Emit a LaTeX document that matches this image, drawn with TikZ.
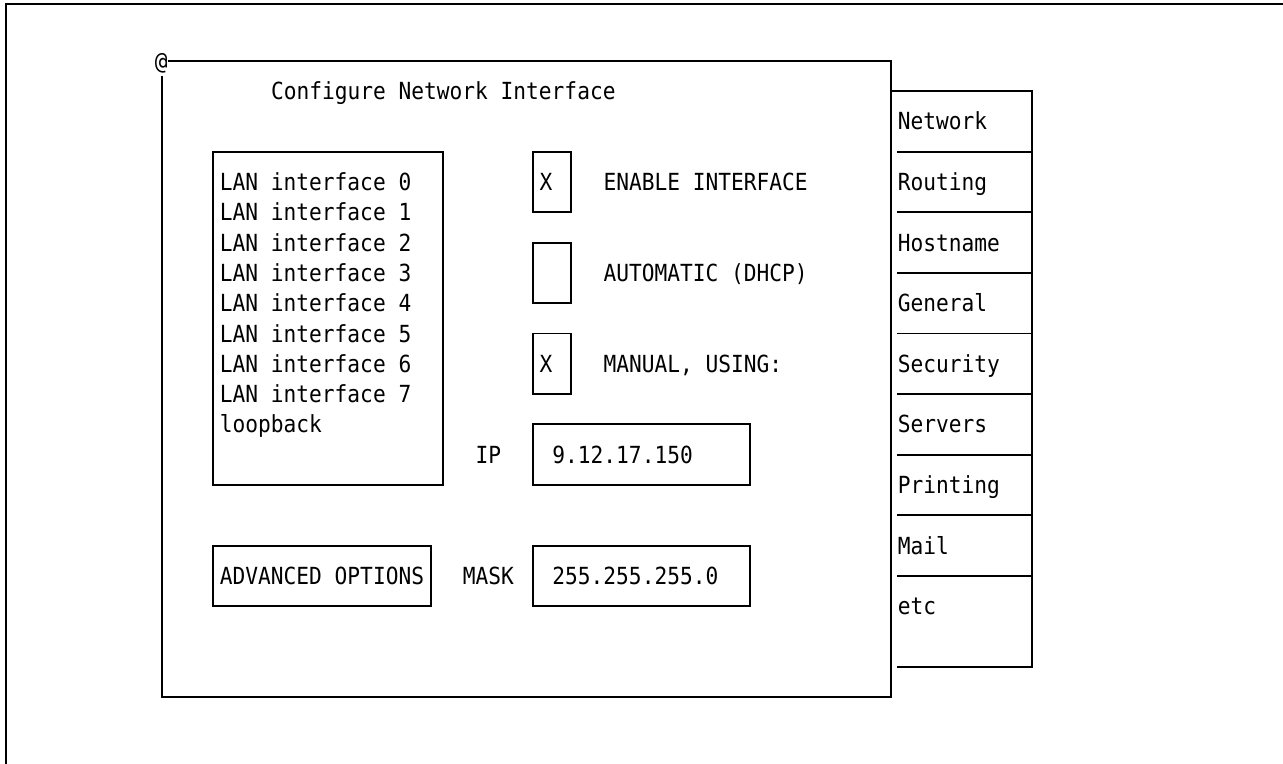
\documentclass[tikz,border=0pt]{standalone}
\usepackage{fontspec}
\newfontfamily\uifont[FakeStretch=0.9]{DejaVu Sans Mono}
\usetikzlibrary{positioning}

\begin{document}
\begin{tikzpicture}[
    x=0.2558cm, y=-0.606cm,
    frame/.style={draw, line width=1.1pt},
    ui/.style={inner sep=0pt, font=\uifont\fontsize{13.4}{16}\selectfont},
    txt/.style={ui, anchor=base west, yshift=-0.17cm}
]
\useasboundingbox (-12.666,-6.0066) rectangle (87.647,19.175);

% Outer frame
\draw[frame] (87.7,-5.874) -- (-12.197,-5.874) -- (-12.197,19.2);

% Main window
\node[ui] (at) at (-0.05,-3.93) {@};
\draw[frame] (0.45,-4) -- (57,-4) -- (57,17) -- (0,17) -- (0,-3.5);
\node[txt] (title) at (8.5,-3) {Configure Network Interface};

% Interface list
\draw[frame] (4,-1) rectangle (22,10);
\node[txt] (lan0) at (4.5,0) {LAN interface 0};
\node[txt] (lan1) at (4.5,1) {LAN interface 1};
\node[txt] (lan2) at (4.5,2) {LAN interface 2};
\node[txt] (lan3) at (4.5,3) {LAN interface 3};
\node[txt] (lan4) at (4.5,4) {LAN interface 4};
\node[txt] (lan5) at (4.5,5) {LAN interface 5};
\node[txt] (lan6) at (4.5,6) {LAN interface 6};
\node[txt] (lan7) at (4.5,7) {LAN interface 7};
\node[txt] (loop) at (4.5,8) {loopback};

% Check boxes
\draw[frame] (29,-1) rectangle (32,1);
\draw[frame] (29,2) rectangle (32,4);
\draw[frame] (29,5) rectangle (32,7);
\node[txt] (enable-x) at (29.5,0) {X};
\node[txt] (manual-x) at (29.5,6) {X};
\node[txt] (enable) at (34.5,0) {ENABLE INTERFACE};
\node[txt] (dhcp) at (34.5,3) {AUTOMATIC (DHCP)};
\node[txt] (manual) at (34.5,6) {MANUAL, USING:};

% Address fields
\node[txt] (ip) at (24.5,9) {IP};
\draw[frame] (29,8) rectangle (46,10);
\node[txt] (ip-val) at (30.5,9) {9.12.17.150};

\draw[frame] (4,12) rectangle (21,14);
\node[txt] (advanced) at (4.5,13) {ADVANCED OPTIONS};

\node[txt] (mask) at (23.5,13) {MASK};
\draw[frame] (29,12) rectangle (46,14);
\node[txt] (mask-val) at (30.5,13) {255.255.255.0};

% Tabs
\draw[frame] (57,-3) -- (68,-3) -- (68,16) -- (57.5,16);
\draw[frame] (57.5,-1) -- (68,-1);
\draw[frame] (57.5,1) -- (68,1);
\draw[frame] (57.5,3) -- (68,3);
\draw[frame] (57.5,5) -- (68,5);
\draw[frame] (57.5,7) -- (68,7);
\draw[frame] (57.5,9) -- (68,9);
\draw[frame] (57.5,11) -- (68,11);
\draw[frame] (57.5,13) -- (68,13);
\node[txt] (network) at (57.5,-2) {Network};
\node[txt] (routing) at (57.5,0) {Routing};
\node[txt] (hostname) at (57.5,2) {Hostname};
\node[txt] (general) at (57.5,4) {General};
\node[txt] (security) at (57.5,6) {Security};
\node[txt] (servers) at (57.5,8) {Servers};
\node[txt] (printing) at (57.5,10) {Printing};
\node[txt] (mail) at (57.5,12) {Mail};
\node[txt] (etc) at (57.5,14) {etc};

\end{tikzpicture}
\end{document}
